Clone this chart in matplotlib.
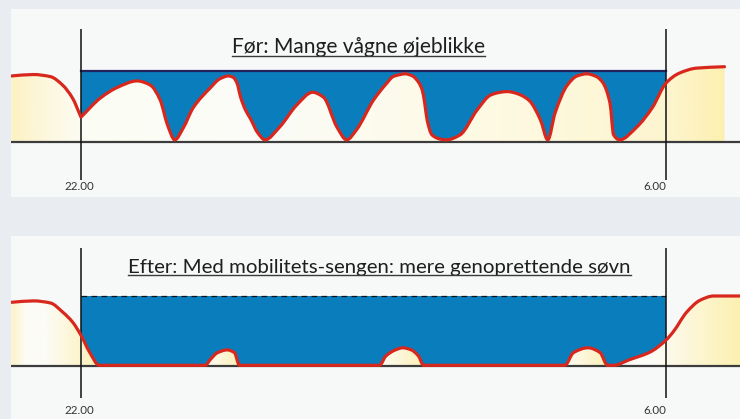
import numpy as np
import matplotlib
matplotlib.use("Agg")
import matplotlib.pyplot as plt
from matplotlib.path import Path
from matplotlib.patches import PathPatch
from matplotlib.lines import Line2D
from matplotlib.colors import to_rgb

# ---------------- data (minutes after 22.00, sleep curve level; bed line = 100) --------------
TICK_MINUTES = [0, 480]
TICK_LABELS = ["22.00", "6.00"]
BED_LEVEL = 100

TITLE_BEFORE = "Før: Mange vågne øjeblikke"
TITLE_AFTER = "Efter: Med mobilitets-sengen: mere genoprettende søvn"

before_min = [-57, -39, -25, -15, -7, 0, 16, 30, 46, 57, 65, 71, 77, 84, 92,
              106, 114, 121, 125, 128, 131, 135, 139, 145, 151, 163, 177, 190, 199, 210, 218,
              226, 240, 251, 256, 262, 266, 272, 277, 280, 282, 284, 288, 295, 300, 311,
              325, 336, 344, 350, 354, 361, 368, 377, 383,
              389, 399, 407, 415, 423, 428, 434, 437, 442, 456, 469, 480, 491, 505, 528]
before_level = [93, 95, 92, 80, 62, 35, 62, 77, 86, 80, 59, 24, 3, 20, 48,
                76, 89, 93, 91, 83, 63, 45, 33, 13, 3, 21, 52, 70, 63, 21, 3,
                17, 59, 83, 92, 95, 96, 93, 84, 73, 55, 31, 10, 4, 3, 10,
                45, 66, 70, 71, 70, 66, 58, 31, 3,
                41, 80, 93, 96, 92, 84, 55, 10, 3, 21, 49, 83, 97, 104, 106]
before_cusps = [0]

after_min = [-57, -39, -25, -15, -7, 0, 7, 15, 102, 106, 112, 120, 126, 130, 245,
             250, 258, 264, 271, 277, 281, 397, 404, 416, 426, 432, 437, 450, 467, 480,
             486, 497, 508, 519, 541]
after_level = [91, 93, 90, 77, 63, 44, 20, 1, 1, 9, 19, 23, 19, 1, 1,
               14, 23, 26, 23, 14, 1, 1, 19, 26, 19, 1, 1, 9, 20, 37,
               49, 77, 94, 100, 100]
after_cusps = []

# ---------------- style ----------------
FIG_BG = "#e9edf1"
PANEL_BG = "#f7f8f8"
BLUE = "#0a7dbc"
RED = "#d8281e"
FONT = ["Lato", "DejaVu Sans"]

grad_before = [(-57, "#fdf2c2"), (-35, "#fdf6d8"), (0, "#fcfcf3"), (150, "#fbfcf8"),
               (330, "#fefae4"), (480, "#fdf5d0"), (528, "#fdf0b0")]
grad_after = [(-57, "#fdf3c6"), (-45, "#fcfcf6"), (-30, "#fcfcf6"), (0, "#fdf4cc"),
              (15, "#fdf0b8"), (102, "#fcfcf6"), (130, "#fdf0b8"), (245, "#fcfcf6"),
              (281, "#fdf0b8"), (397, "#fcfcf6"), (432, "#fdf0b8"), (437, "#fcfcf6"),
              (470, "#fcfcf6"), (541, "#fdf0b0")]


def slopes(x, y):
    x = np.asarray(x, float)
    y = np.asarray(y, float)
    h = np.diff(x)
    delta = np.diff(y) / h
    n = len(x)
    d = np.zeros(n)
    d[0] = delta[0]
    d[-1] = delta[-1]
    for i in range(1, n - 1):
        if delta[i - 1] * delta[i] > 0:
            w1 = 2 * h[i] + h[i - 1]
            w2 = h[i] + 2 * h[i - 1]
            d[i] = (w1 + w2) / (w1 / delta[i - 1] + w2 / delta[i])
    return d


def segments(xs, ys, cusps):
    xs = list(map(float, xs))
    ys = list(map(float, ys))
    cut = [0] + [xs.index(float(c)) for c in cusps] + [len(xs) - 1]
    segs = []
    for a, b in zip(cut[:-1], cut[1:]):
        px, py = xs[a:b + 1], ys[a:b + 1]
        d = slopes(px, py)
        for i in range(len(px) - 1):
            h = px[i + 1] - px[i]
            segs.append(((px[i], py[i]),
                         (px[i] + h / 3, py[i] + d[i] * h / 3),
                         (px[i + 1] - h / 3, py[i + 1] - d[i + 1] * h / 3),
                         (px[i + 1], py[i + 1])))
    return segs


def seg_verts(segs):
    verts = [segs[0][0]]
    codes = [Path.MOVETO]
    for p0, c1, c2, p1 in segs:
        verts += [c1, c2, p1]
        codes += [Path.CURVE4] * 3
    return verts, codes


def draw_panel(ax, xs, ys, cusps, grad, top_dashed, ylim, vline_range,
               title, title_x, title_y, title_size, label_y):
    ax.set_facecolor(PANEL_BG)
    for s in ax.spines.values():
        s.set_visible(False)
    ax.set_xticks([])
    ax.set_yticks([])

    segs = segments(xs, ys, cusps)

    # area under the curve (gradient)
    v, c = seg_verts(segs)
    v = v + [(xs[-1], 0), (xs[0], 0), (xs[0], ys[0])]
    c = c + [Path.LINETO, Path.LINETO, Path.CLOSEPOLY]
    under = PathPatch(Path(v, c), facecolor="none", edgecolor="none", transform=ax.transData)
    ax.add_patch(under)
    gx = np.linspace(xs[0], xs[-1], 800)
    gpos = [g[0] for g in grad]
    gcol = np.array([to_rgb(g[1]) for g in grad])
    img = np.stack([np.interp(gx, gpos, gcol[:, k]) for k in range(3)], axis=-1)[None, :, :]
    im = ax.imshow(img, extent=[xs[0], xs[-1], -1, 115], aspect="auto",
                   interpolation="bilinear", zorder=1)
    im.set_clip_path(under)

    # blue area between curve and bed line
    t0, t1 = TICK_MINUTES
    bsegs = [s for s in segs if s[0][0] >= t0 and s[3][0] <= t1]
    v, c = seg_verts(bsegs)
    v = v + [(t1, BED_LEVEL), (t0, BED_LEVEL), v[0]]
    c = c + [Path.LINETO, Path.LINETO, Path.CLOSEPOLY]
    ax.add_patch(PathPatch(Path(v, c), facecolor=BLUE, edgecolor="none", zorder=1.5))

    if top_dashed:
        ax.plot([t0, t1], [BED_LEVEL, BED_LEVEL], color="#111111", lw=0.9,
                dashes=(4.5, 3.5), zorder=2)
    else:
        ax.plot([t0, t1], [BED_LEVEL, BED_LEVEL], color="#22235c", lw=1.6, zorder=2)

    ax.axhline(0, color="#3c3c3c", lw=1.6, zorder=2)
    ax.vlines(TICK_MINUTES, vline_range[0], vline_range[1], color="#111111", lw=1.1, zorder=2.5)

    v, c = seg_verts(segs)
    ax.add_patch(PathPatch(Path(v, c), facecolor="none", edgecolor=RED, lw=2.3,
                           joinstyle="round", capstyle="round", zorder=3))

    ax.text(TICK_MINUTES[0] - 1.5, label_y, TICK_LABELS[0], ha="center", va="center",
            fontsize=8.3, family=FONT, color="#333333")
    ax.text(TICK_MINUTES[1] + 0.5, label_y, TICK_LABELS[1], ha="right", va="center",
            fontsize=8.3, family=FONT, color="#333333")

    t = ax.text(title_x, title_y, title, ha="center", va="baseline", fontsize=title_size,
                family=FONT, color="#1e1e1e")

    ax.set_xlim(-57.4, 540.7)
    ax.set_ylim(*ylim)
    return t


fig = plt.figure(figsize=(7.4, 4.19), dpi=100, facecolor=FIG_BG)
ax1 = fig.add_axes([11 / 740, (419 - 197) / 419, 729 / 740, 188 / 419])
ax2 = fig.add_axes([11 / 740, 0, 729 / 740, 183 / 419])

t1 = draw_panel(ax1, before_min, before_level, before_cusps, grad_before, False,
                (-77.5, 187.3), (-53.5, 159), TITLE_BEFORE, 228, 125, 15.1, -63)
t2 = draw_panel(ax2, after_min, after_level, after_cusps, grad_after, True,
                (-75.7, 185.7), (-45.7, 168.6), TITLE_AFTER, 245, 133, 14.7, -64)

fig.canvas.draw()
r = fig.canvas.get_renderer()
inv = fig.transFigure.inverted()
for t in (t1, t2):
    bb = t.get_window_extent(r)
    (x0, y0) = inv.transform((bb.x0, bb.y0 + 0.8))
    (x1, _) = inv.transform((bb.x1, bb.y0 + 0.8))
    fig.add_artist(Line2D([x0, x1], [y0, y0], transform=fig.transFigure,
                          color="#3a3a3a", lw=1.0))

fig.savefig("out.png", dpi=100, facecolor=FIG_BG)
